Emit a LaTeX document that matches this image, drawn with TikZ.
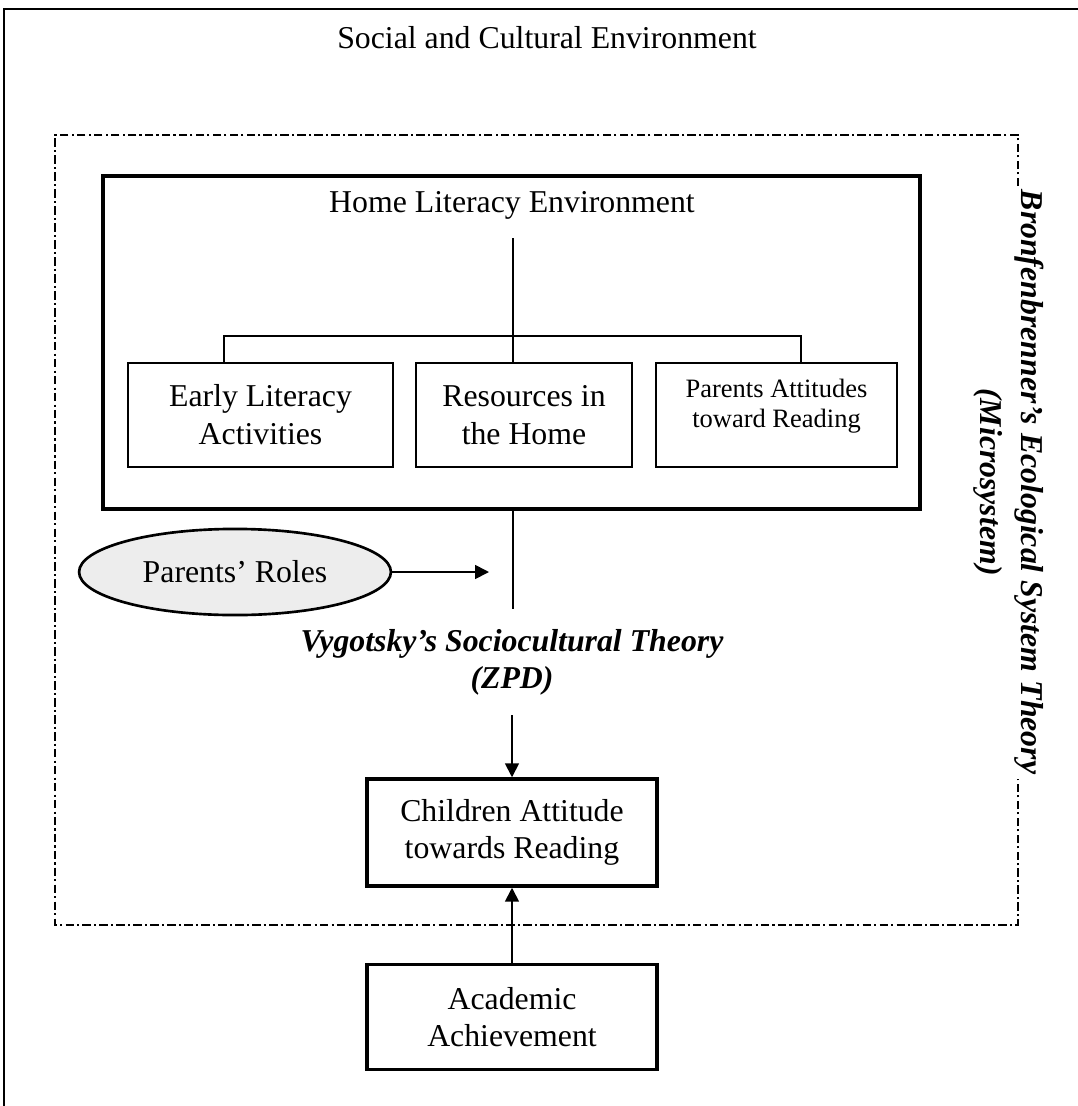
\documentclass[tikz,border=0pt]{standalone}
\usepackage{fontspec}
\setmainfont{Liberation Serif}
\usetikzlibrary{shapes.geometric,arrows.meta}

\begin{document}
\begin{tikzpicture}[x=0.3774pt,y=-0.3774pt,color=black,
  box/.style={draw,line width=0.6pt,align=center,inner sep=0pt,minimum height=39.25pt,font=\fontsize{12}{14.3}\selectfont},
  thickbox/.style={draw,line width=1.3pt,align=center,inner sep=0pt,minimum width=109.4pt,font=\fontsize{12}{14}\selectfont},
  conn/.style={line width=0.65pt},
  arr/.style={line width=0.65pt,-{Triangle[length=5.2pt,width=5.2pt]}},
  theory/.style={align=center,inner sep=0pt,font=\fontsize{12}{14}\selectfont\bfseries\itshape}]

\useasboundingbox (0,0) rectangle (1077,1106);

% outer box, it runs off the page at the right and the bottom
\draw[line width=0.5pt] (4,9) rectangle (1100,1130);
\node (social) at (547,38)[font=\fontsize{12}{14}\selectfont]{Social and Cultural Environment};

% microsystem, left open on the right for its label
\draw[line width=0.5pt,dash pattern=on 3.2pt off 1.2pt on 0.8pt off 1.2pt] (1018,186) -- (1018,135) -- (55,135) -- (55,925) -- (1018,925) -- (1018,779);
\node (micro) at (1009,482)[theory,rotate=-90,font=\fontsize{12}{15.5}\selectfont\bfseries\itshape]{Bronfenbrenner’s Ecological System Theory\\(Microsystem)};

\node (home) at (511.5,342.5)[draw,line width=1.3pt,minimum width=308.3pt,minimum height=125.7pt]{};
\node (hle) at (512,205)[font=\fontsize{12}{14}\selectfont]{Home Literacy Environment};

\node (early) at (260.5,415)[box,minimum width=100pt]{Early Literacy\\Activities};
\node (res) at (524,415)[box,minimum width=81.5pt]{Resources in\\the Home};
\node (patt) at (776.5,415)[box,minimum width=90.95pt,text depth=8.5pt,font=\fontsize{10}{11.3}\selectfont]{Parents Attitudes\\toward Reading};

% tree under the title
\coordinate (top) at (513,238);
\coordinate (lft) at (224,336);
\coordinate (rgt) at (801,336);
\draw[conn] (top) -- (top |- res.north);
\draw[conn] (early.north -| lft) -- (lft) -- (rgt) -- (rgt |- patt.north);

\coordinate (zpdtop) at (513,609);
\draw[conn] (home.south -| zpdtop) -- (zpdtop);

\node (roles) at (235,572)[ellipse,draw,line width=1pt,fill=gray!14,minimum width=117.7pt,minimum height=32.5pt,inner sep=0pt,font=\fontsize{12}{14}\selectfont]{Parents’ Roles};
\coordinate (rolesend) at (489,572);
\draw[arr] (roles) -- (rolesend);

\node (vyg) at (512,662)[theory]{Vygotsky’s Sociocultural Theory\\(ZPD)};
\coordinate (zpdbot) at (512,715);

\node (child) at (512,832.5)[thickbox,minimum height=40.4pt]{Children Attitude\\towards Reading};
\node (acad) at (512,1017)[thickbox,minimum height=39.6pt]{Academic\\Achievement};

\draw[arr] (zpdbot) -- (child.north);
\draw[arr] (acad.north) -- (child.south);

\end{tikzpicture}
\end{document}
